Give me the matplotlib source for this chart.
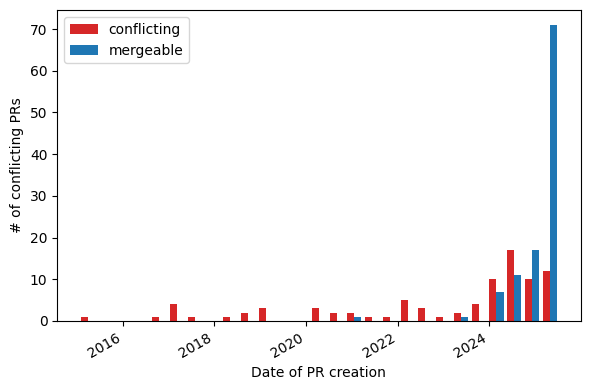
import numpy as np
import matplotlib
matplotlib.use("Agg")
import matplotlib.pyplot as plt
import matplotlib.dates as mdates

# histogram bin range (dates of PR creation) and counts per bin
first_date = "2015-01-18"
last_date = "2025-07-08"
n_bins = 27

conflicting = [1, 0, 0, 0, 1, 4, 1, 0, 1, 2, 3, 0, 0, 3, 2, 2, 1, 1, 5, 3, 1, 2, 4, 10, 17, 10, 12]
mergeable = [0, 0, 0, 0, 0, 0, 0, 0, 0, 0, 0, 0, 0, 0, 0, 1, 0, 0, 0, 0, 0, 1, 0, 7, 11, 17, 71]

edges = np.linspace(mdates.datestr2num(first_date), mdates.datestr2num(last_date), n_bins + 1)
centers = (edges[:-1] + edges[1:]) / 2

fig, ax = plt.subplots(figsize=(5.9, 3.9), dpi=100)
ax.hist([centers, centers], bins=edges, weights=[conflicting, mergeable],
        color=["tab:red", "tab:blue"], label=["conflicting", "mergeable"])
ax.xaxis_date()
ax.xaxis.set_major_locator(mdates.YearLocator(2))
ax.xaxis.set_major_formatter(mdates.DateFormatter("%Y"))
ax.set_xlabel("Date of PR creation")
ax.set_ylabel("# of conflicting PRs")
ax.legend(loc="upper left")
fig.autofmt_xdate()
fig.subplots_adjust(left=0.097, right=0.984, top=0.974, bottom=0.177)
fig.savefig("out.png")
